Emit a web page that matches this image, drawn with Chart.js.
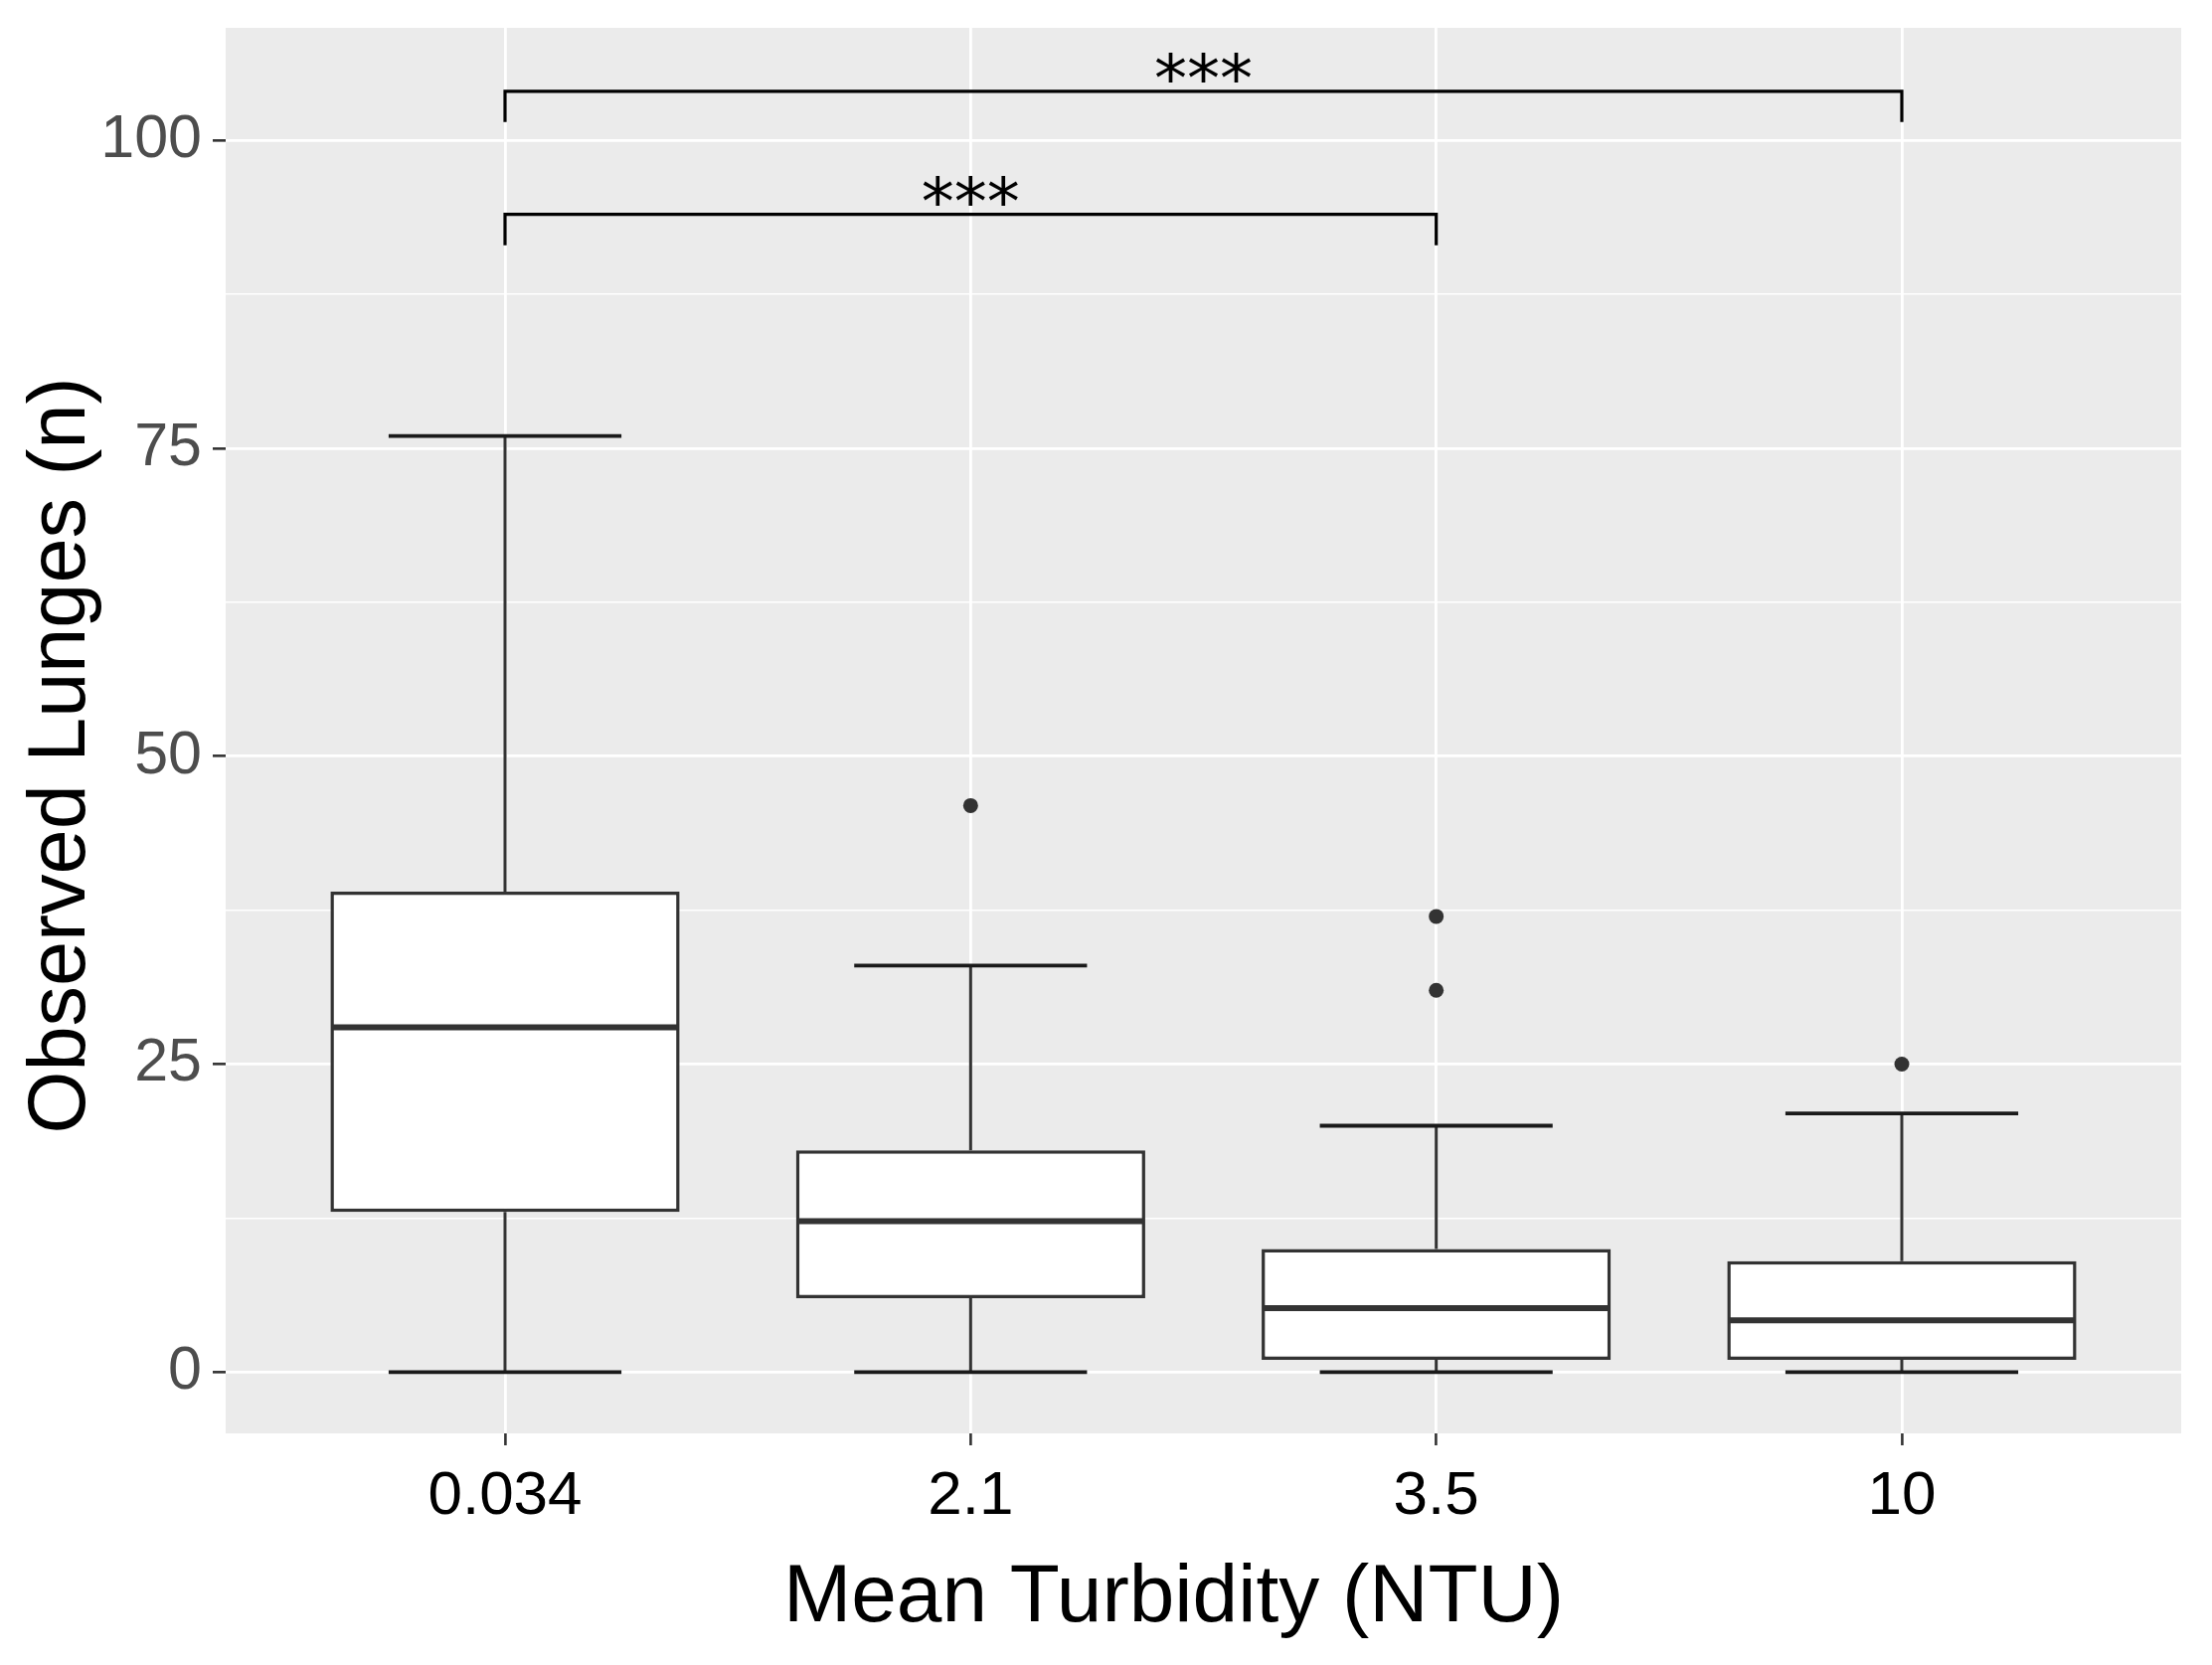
<!DOCTYPE html>
<html>
<head>
<meta charset="utf-8">
<script src="https://cdn.jsdelivr.net/npm/chart.js@4.4.1/dist/chart.umd.min.js"></script>
<style>
html,body{margin:0;padding:0;background:#ffffff;}
#wrap{width:2225px;height:1675px;position:relative;}
</style>
</head>
<body>
<div id="wrap"><canvas id="c"></canvas></div>
<script>
// ---- data ----
const categories = ['0.034', '2.1', '3.5', '10'];
const lowerWhisker = [0, 0, 0, 0];
const q1 = [13, 6, 1, 1];
const median = [28, 12.25, 5.2, 4.2];
const q3 = [39, 18, 10, 9];
const upperWhisker = [76, 33, 20, 21];
const outliers = [[], [46], [37, 31], [25]];
const yTicks = [0, 25, 50, 75, 100];
const yMinorTicks = [12.5, 37.5, 62.5, 87.5];
const bracketFrom = [0, 0];
const bracketTo = [2, 3];
const bracketY = [94, 104];
const bracketTip = [2.5, 2.5];
const bracketLabels = ['***', '***'];
const xTitle = 'Mean Turbidity (NTU)';
const yTitle = 'Observed Lunges (n)';

const BOX_W = 0.75, CAP_W = 0.5;

const boxData = categories.map((c, i) => ({ x: i + 1, y: [q1[i], q3[i]] }));
const outlierData = [];
outliers.forEach((arr, i) => arr.forEach(v => outlierData.push({ x: i + 1, y: v })));

const bgPlugin = {
  id: 'panelBg',
  beforeDraw(chart) {
    const { ctx, chartArea: a } = chart;
    ctx.save();
    ctx.fillStyle = '#EBEBEB';
    ctx.fillRect(a.left, a.top, a.right - a.left, a.bottom - a.top);
    ctx.restore();
  }
};

const boxPlugin = {
  id: 'boxParts',
  afterDatasetsDraw(chart) {
    const { ctx, scales: { x, y } } = chart;
    ctx.save();
    ctx.lineCap = 'butt';
    categories.forEach((c, i) => {
      const cx = x.getPixelForValue(i + 1);
      // whiskers
      ctx.strokeStyle = '#333333';
      ctx.lineWidth = 3;
      ctx.beginPath();
      ctx.moveTo(cx, y.getPixelForValue(q3[i]));
      ctx.lineTo(cx, y.getPixelForValue(upperWhisker[i]));
      ctx.moveTo(cx, y.getPixelForValue(q1[i]));
      ctx.lineTo(cx, y.getPixelForValue(lowerWhisker[i]));
      ctx.stroke();
      // caps
      ctx.strokeStyle = '#1a1a1a';
      ctx.lineWidth = 3.8;
      const l = x.getPixelForValue(i + 1 - CAP_W / 2), r = x.getPixelForValue(i + 1 + CAP_W / 2);
      ctx.beginPath();
      ctx.moveTo(l, y.getPixelForValue(upperWhisker[i]));
      ctx.lineTo(r, y.getPixelForValue(upperWhisker[i]));
      ctx.moveTo(l, y.getPixelForValue(lowerWhisker[i]));
      ctx.lineTo(r, y.getPixelForValue(lowerWhisker[i]));
      ctx.stroke();
      // median
      ctx.strokeStyle = '#333333';
      ctx.lineWidth = 6;
      const bl = x.getPixelForValue(i + 1 - BOX_W / 2) + 1.5, br = x.getPixelForValue(i + 1 + BOX_W / 2) - 1.5;
      ctx.beginPath();
      ctx.moveTo(bl, y.getPixelForValue(median[i]));
      ctx.lineTo(br, y.getPixelForValue(median[i]));
      ctx.stroke();
    });
    // brackets
    ctx.strokeStyle = '#000000';
    ctx.lineWidth = 3.2;
    ctx.fillStyle = '#000000';
    ctx.font = '66px "DejaVu Sans"';
    ctx.textAlign = 'center';
    ctx.textBaseline = 'alphabetic';
    bracketY.forEach((yv, k) => {
      const x1 = x.getPixelForValue(bracketFrom[k] + 1);
      const x2 = x.getPixelForValue(bracketTo[k] + 1);
      const yl = y.getPixelForValue(yv);
      const yt = y.getPixelForValue(yv - bracketTip[k]);
      ctx.beginPath();
      ctx.moveTo(x1, yt);
      ctx.lineTo(x1, yl);
      ctx.lineTo(x2, yl);
      ctx.lineTo(x2, yt);
      ctx.stroke();
      const m = ctx.measureText(bracketLabels[k]);
      const desc = m.actualBoundingBoxDescent || 0;
      ctx.fillText(bracketLabels[k], (x1 + x2) / 2, yl - 9 - desc);
    });
    ctx.restore();
  },
  afterDraw(chart) {
    const { ctx, chartArea: a } = chart;
    ctx.save();
    ctx.fillStyle = '#000000';
    ctx.font = '82px "Liberation Sans"';
    ctx.textAlign = 'center';
    ctx.textBaseline = 'alphabetic';
    ctx.fillText(xTitle, (a.left + a.right) / 2 - 30, 1631);
    ctx.font = '81px "Liberation Sans"';
    ctx.translate(85, (a.top + a.bottom) / 2 + 25);
    ctx.rotate(-Math.PI / 2);
    ctx.fillText(yTitle, 0, 0);
    ctx.restore();
  }
};

new Chart(document.getElementById('c'), {
  type: 'bar',
  data: {
    datasets: [
      {
        type: 'bar',
        data: boxData,
        backgroundColor: '#ffffff',
        borderColor: '#333333',
        borderWidth: 3.5,
        borderSkipped: false,
        categoryPercentage: 1,
        barPercentage: BOX_W,
        order: 2
      },
      {
        type: 'scatter',
        data: outlierData,
        backgroundColor: '#333333',
        borderWidth: 0,
        pointRadius: 7.5,
        order: 1
      }
    ]
  },
  options: {
    responsive: true,
    maintainAspectRatio: false,
    devicePixelRatio: 1,
    animation: false,
    layout: { padding: { top: 28, right: 31, left: 0, bottom: 0 } },
    plugins: { legend: { display: false }, tooltip: { enabled: false } },
    scales: {
      x: {
        type: 'linear',
        min: 0.4,
        max: 4.6,
        offset: false,
        afterBuildTicks: s => { s.ticks = categories.map((c, i) => ({ value: i + 1 })); },
        afterFit: s => { s.height = 233; s.paddingLeft = 0; s.paddingRight = 0; },
        ticks: {
          autoSkip: false,
          maxRotation: 0,
          callback: v => categories[Math.round(v) - 1],
          color: '#000000',
          font: { family: 'Liberation Sans', size: 62 },
          padding: 15
        },
        grid: { offset: false, color: '#ffffff', lineWidth: 2.8, tickColor: '#333333', tickWidth: 2.6, tickLength: 12 },
        border: { display: false }
      },
      y: {
        type: 'linear',
        min: -4.98,
        max: 109.15,
        afterBuildTicks: s => {
          s.ticks = yTicks.concat(yMinorTicks).sort((a, b) => a - b).map(v => ({ value: v }));
        },
        afterFit: s => { s.width = 227; s.paddingTop = 0; s.paddingBottom = 0; },
        ticks: {
          autoSkip: false,
          callback: v => (yTicks.includes(v) ? String(v) : ''),
          color: '#4D4D4D',
          font: { family: 'Liberation Sans', size: 61 },
          padding: 11
        },
        grid: {
          color: '#ffffff',
          lineWidth: c => (yTicks.includes(c.tick.value) ? 2.7 : 1.5),
          tickColor: c => (yTicks.includes(c.tick.value) ? '#333333' : 'rgba(0,0,0,0)'),
          tickWidth: 2.6,
          tickLength: 13
        },
        border: { display: false }
      }
    }
  },
  plugins: [bgPlugin, boxPlugin]
});
</script>
</body>
</html>
